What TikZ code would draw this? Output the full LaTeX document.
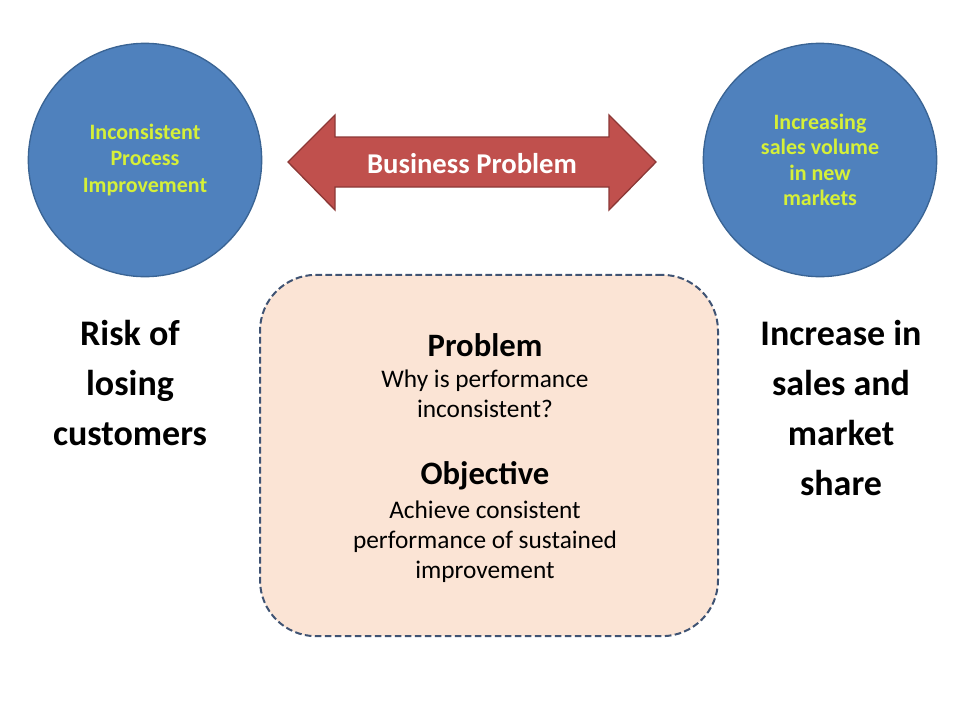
\documentclass[tikz,border=0pt]{standalone}
\usepackage{fontspec}
\setmainfont{Carlito}
\usetikzlibrary{positioning}
\definecolor{circblue}{HTML}{4F81BD}
\definecolor{circedge}{HTML}{3A6494}
\definecolor{lime}{RGB}{214,240,56}
\definecolor{arrowred}{HTML}{C0504D}
\definecolor{arrowedge}{HTML}{8C3836}
\definecolor{peach}{HTML}{FBE4D5}
\definecolor{boxedge}{HTML}{3F5373}
\tikzset{
  goal/.style={circle, draw=circedge, fill=circblue, line width=1pt,
    minimum size=175pt, inner sep=0pt, align=center, text=lime,
    font=\fontsize{16.5}{20}\selectfont\bfseries},
  side/.style={align=center, font=\fontsize{27}{37.5}\selectfont\bfseries},
  head/.style={font=\fontsize{24.5}{28}\selectfont\bfseries},
  body/.style={align=center, font=\fontsize{19}{22.5}\selectfont}
}
\begin{document}
\begin{tikzpicture}[x=0.75pt, y=-0.75pt]
\useasboundingbox (0,0) rectangle (977,700);

% the two circles
\node[goal] (incons) at (145,160) {Inconsistent\\Process\\Improvement};
\node[goal, font=\fontsize{16.5}{19}\selectfont\bfseries] (sales) at (820,160)
  {Increasing\\sales volume\\in new\\markets};

% double arrow
\draw[fill=arrowred, draw=arrowedge, line width=1pt, line join=miter]
  (288,162)--(335,115)--(335,137)--(609,137)--(609,115)--(656,162)
  --(609,210)--(609,187)--(335,187)--(335,210)--cycle;
\node[text=white, font=\fontsize{21.5}{24}\selectfont\bfseries] (bp) at (472,164) {Business Problem};

% dashed box
\node[draw=boxedge, fill=peach, dash pattern=on 5pt off 2.5pt, line width=1.5pt,
  rounded corners=42pt, minimum width=343.5pt, minimum height=271pt] (box) at (489,455.5) {};

\node[head] (prob) at (485,345) {Problem};
\node[body] (probtxt) at (485,394) {Why is performance\\inconsistent?};
\node[head] (obj) at (485,476) {Objective};
\node[body] (objtxt) at (485,542) {Achieve consistent\\performance of sustained\\improvement};

% side labels
\node[side] (risk) at (130,383) {Risk of\\losing\\customers};
\node[side] (incr) at (841,408) {Increase in\\sales and\\market\\share};
\end{tikzpicture}
\end{document}
